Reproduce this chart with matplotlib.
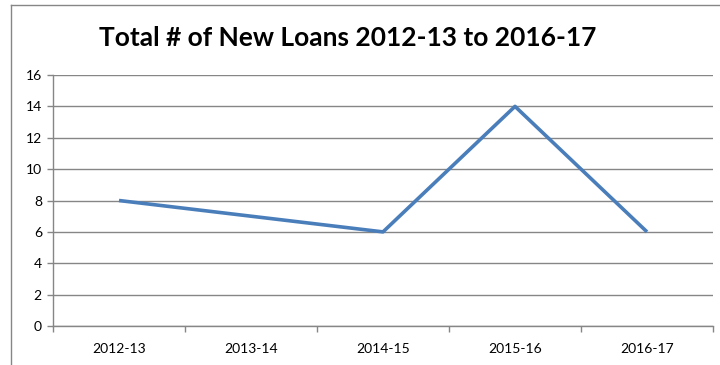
import matplotlib.pyplot as plt
from matplotlib.lines import Line2D

years = ["2012-13", "2013-14", "2014-15", "2015-16", "2016-17"]
loans = [8, 7, 6, 14, 6]
y_ticks = [0, 2, 4, 6, 8, 10, 12, 14, 16]

plt.rcParams['font.family'] = ['Lato', 'DejaVu Sans']

fig = plt.figure(figsize=(7.2, 3.65), dpi=100)
ax = fig.add_axes([0.0736, 0.1068, 0.9167, 0.6877])

x = list(range(len(years)))
ax.plot(x, loans, color="#4A7EBB", linewidth=2.6, solid_capstyle="butt")

ax.set_xlim(-0.5, len(years) - 0.5)
ax.set_ylim(0, 16)
ax.set_yticks(y_ticks)
ax.set_xticks(x)
ax.set_xticklabels(years, fontsize=10)
ax.set_xticks([i - 0.5 for i in range(len(years) + 1)], minor=True)
ax.tick_params(axis="x", which="major", length=0, pad=12)
ax.tick_params(axis="x", which="minor", length=4, color="#868686", width=1)
ax.tick_params(axis="y", length=4, color="#868686", width=1, labelsize=10, pad=4)

ax.grid(axis="y", color="#868686", linewidth=1)
ax.set_axisbelow(True)
for side in ["top", "right"]:
    ax.spines[side].set_visible(False)
for side in ["left", "bottom"]:
    ax.spines[side].set_color("#868686")
    ax.spines[side].set_linewidth(1)

fig.text(0.483, 0.895, "Total # of New Loans 2012-13 to 2016-17",
         ha="center", va="center", fontsize=19, fontweight="bold")

# chart frame (only left and top edges visible in the crop)
fig.add_artist(Line2D([0.0153, 0.0153], [0, 0.986], color="#868686", lw=1))
fig.add_artist(Line2D([0.0153, 1.0], [0.986, 0.986], color="#868686", lw=1))

fig.savefig("out.png", dpi=100)
